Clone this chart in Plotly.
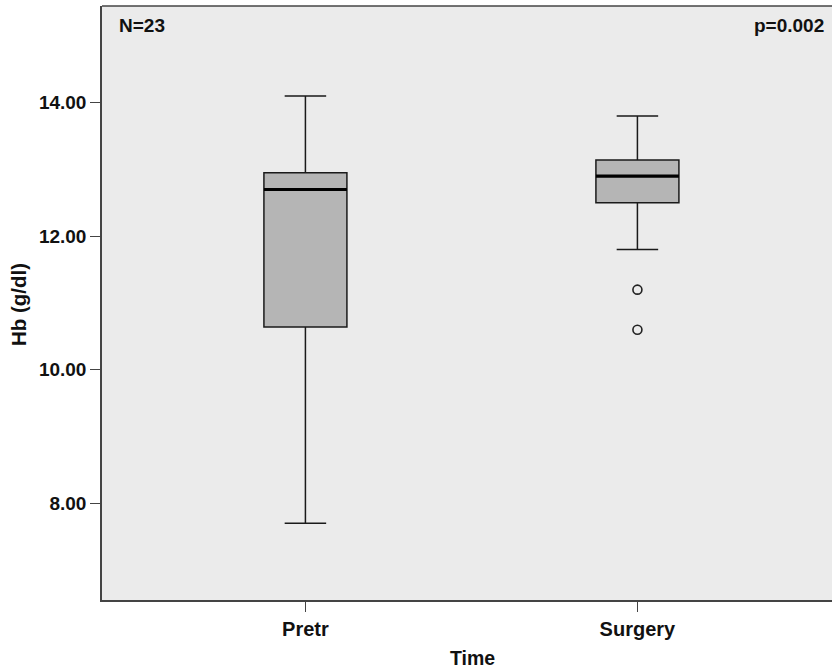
import plotly.graph_objects as go

categories = ["Pretr", "Surgery"]
positions = [0, 1]
lower_whisker = [7.70, 11.80]
q1 = [10.64, 12.50]
median = [12.70, 12.90]
q3 = [12.95, 13.14]
upper_whisker = [14.10, 13.80]
outlier_cat = [1, 1]
outlier_vals = [11.20, 10.60]
y_ticks = [8, 10, 12, 14]
y_tick_labels = ["8.00", "10.00", "12.00", "14.00"]

BOX_W = 0.25
FONT = dict(family="Liberation Sans, Arial, sans-serif", size=19, color="#111111", weight="bold")
FONT_L = dict(FONT, size=20)

fig = go.Figure()
fig.add_trace(go.Box(
    x=positions, q1=q1, median=median, q3=q3,
    lowerfence=lower_whisker, upperfence=upper_whisker,
    width=BOX_W, whiskerwidth=0.5, boxpoints=False,
    fillcolor="#B5B5B5", line=dict(color="#1a1a1a", width=1.5),
    showlegend=False, hoverinfo="skip",
))
for p, m in zip(positions, median):
    fig.add_trace(go.Scatter(
        x=[p - BOX_W / 2, p + BOX_W / 2], y=[m, m], mode="lines",
        line=dict(color="#000000", width=3.2), showlegend=False, hoverinfo="skip",
    ))
fig.add_trace(go.Scatter(
    x=outlier_cat, y=outlier_vals, mode="markers",
    marker=dict(symbol="circle-open", size=9, color="#222222", line=dict(width=1.6)),
    showlegend=False, hoverinfo="skip",
))

L, R, T, B = 102, 0, 6, 70
plot_w = 832 - L - R
px_per_cat = 332.0
x0 = -0.6127
x1 = x0 + plot_w / px_per_cat

fig.update_layout(
    width=832, height=670,
    margin=dict(l=L, r=R, t=T, b=B),
    paper_bgcolor="white", plot_bgcolor="#EBEBEB",
    font=FONT,
    xaxis=dict(range=[x0, x1], tickvals=positions, ticktext=categories,
               showgrid=False, zeroline=False, showline=True, linecolor="#444444",
               linewidth=1.5, ticks="outside", ticklen=10, tickcolor="#444444",
               tickwidth=1.2, tickfont=FONT_L),
    yaxis=dict(range=[6.552, 15.448], tickvals=y_ticks, ticktext=y_tick_labels,
               showgrid=False, zeroline=False, showline=True, linecolor="#444444",
               linewidth=1.5, ticks="outside", ticklen=10, tickcolor="#444444",
               tickwidth=1.2, tickfont=FONT),
    shapes=[dict(type="line", xref="paper", yref="paper", x0=0, x1=1, y0=1, y1=1,
                 line=dict(color="#444444", width=1.5))],
    annotations=[
        dict(text="N=23", xref="paper", yref="paper", x=(117 - L) / plot_w,
             y=1 - (25.5 - T) / 594, xanchor="left", yanchor="middle",
             showarrow=False, font=FONT),
        dict(text="p=0.002", xref="paper", yref="paper", x=(826 - L) / plot_w,
             y=1 - (25.5 - T) / 594, xanchor="right", yanchor="middle",
             showarrow=False, font=FONT),
        dict(text="Hb (g/dl)", xref="paper", yref="paper", x=(18 - L) / plot_w,
             y=1 - (305 - T) / 594, xanchor="center", yanchor="middle",
             textangle=-90, showarrow=False, font=dict(FONT, size=20.5)),
        dict(text="Time", xref="paper", yref="paper", x=(472 - L) / plot_w,
             y=1 - (658 - T) / 594, xanchor="center", yanchor="middle",
             showarrow=False, font=dict(FONT, size=19.5)),
    ],
)

fig.write_html("out.html", config={"displayModeBar": False},
               post_script="document.body.style.margin='0';")
